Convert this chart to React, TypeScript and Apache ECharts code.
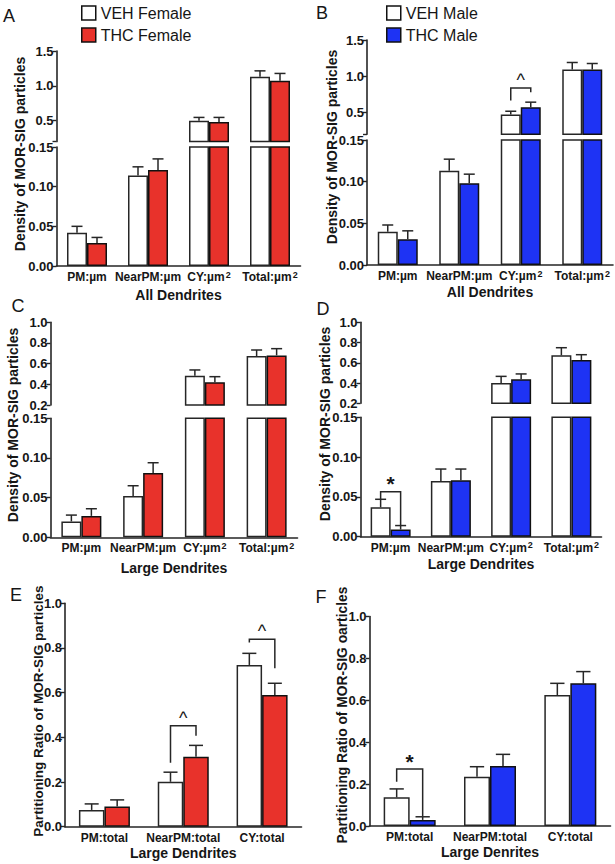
import React, { useEffect, useRef } from "react";
import * as echarts from "echarts";

// ---------------- data ----------------
const densityCategories = ["PM:µm", "NearPM:µm", "CY:µm²", "Total:µm²"];
const ratioCategories = ["PM:total", "NearPM:total", "CY:total"];

const upperTicksAB = [0.2, 0.5, 1.0, 1.5];
const upperLabelsAB = [0.5, 1.0, 1.5];
const upperTicksCD = [0.2, 0.4, 0.6, 0.8, 1.0];
const lowerTicks = [0, 0.05, 0.1, 0.15];
const ratioTicks = [0, 0.2, 0.4, 0.6, 0.8, 1.0];

// A – All dendrites, female
const aVeh = [0.042, 0.114, 0.498, 1.129];
const aVehErr = [0.008, 0.011, 0.049, 0.086];
const aThc = [0.029, 0.121, 0.483, 1.072];
const aThcErr = [0.007, 0.014, 0.064, 0.106];
// B – All dendrites, male
const bVeh = [0.04, 0.113, 0.472, 1.093];
const bVehErr = [0.008, 0.014, 0.046, 0.097];
const bThc = [0.031, 0.098, 0.574, 1.093];
const bThcErr = [0.01, 0.011, 0.069, 0.083];
// C – Large dendrites, female
const cVeh = [0.02, 0.052, 0.484, 0.674];
const cVehErr = [0.008, 0.013, 0.055, 0.058];
const cThc = [0.027, 0.081, 0.42, 0.68];
const cThcErr = [0.009, 0.013, 0.054, 0.065];
// D – Large dendrites, male
const dVeh = [0.037, 0.07, 0.4, 0.674];
const dVehErr = [0.01, 0.015, 0.066, 0.075];
const dThc = [0.009, 0.071, 0.437, 0.628];
const dThcErr = [0.005, 0.014, 0.053, 0.052];
// E – Partitioning ratio, female
const eVeh = [0.075, 0.201, 0.724];
const eVehErr = [0.027, 0.043, 0.052];
const eThc = [0.09, 0.313, 0.59];
const eThcErr = [0.03, 0.051, 0.052];
// F – Partitioning ratio, male
const fVeh = [0.137, 0.235, 0.625];
const fVehErr = [0.04, 0.048, 0.056];
const fThc = [0.029, 0.286, 0.681];
const fThcErr = [0.015, 0.056, 0.056];

// significance brackets: [category index, bracket level, left drop, right drop]
const bBracket = [2, 0.84, 0.667, 0.78];
const dBracket = [0, 0.0566, 0.0467, 0.014];
const eBracketNear = [1, 0.452, 0.286, 0.407];
const eBracketCY = [2, 0.839, 0.824, 0.709];
const fBracket = [0, 0.272, 0.211, 0.048];

// ---------------- styling ----------------
const FONT = "'Liberation Sans', Arial, Helvetica, sans-serif";
const INK = "#262626";
const TXT = "#161616";
const RED = "#E8322B";
const BLUE = "#1E33F4";

type Segment = {
  top: number;
  height: number;
  min: number;
  max: number;
  ticks: number[];
  labels: number[];
  digits: number;
};
type Bracket = { seg: number; b: number[]; mark: string };
type Panel = {
  cats: string[];
  veh: number[];
  vehErr: number[];
  thc: number[];
  thcErr: number[];
  color: string;
  names: [string, string];
  xName: string;
  xNameGap: number;
  left: number;
  width: number;
  barW: number;
  segments: Segment[];
  brackets: Bracket[];
};

function buildOption() {
  const grid: any[] = [];
  const xAxis: any[] = [];
  const yAxis: any[] = [];
  const series: any[] = [];
  const graphic: any[] = [];

  const addPanel = (p: Panel) => {
    const segIdx: number[] = [];
    p.segments.forEach((s, si) => {
      const gi = grid.length;
      segIdx.push(gi);
      const isLast = si === p.segments.length - 1;
      grid.push({ left: p.left, top: s.top, width: p.width, height: s.height });
      xAxis.push({
        type: "category",
        gridIndex: gi,
        data: p.cats,
        axisLine: { show: isLast, lineStyle: { color: INK, width: 1.6 } },
        axisTick: { show: false },
        axisLabel: {
          show: isLast,
          interval: 0,
          margin: 4,
          color: TXT,
          fontFamily: FONT,
          fontWeight: "bold",
          fontSize: 12,
          lineHeight: 14,
          formatter: (v: string) => (v.indexOf("²") >= 0 ? v.replace("²", "{s|2}") : v),
          rich: {
            s: {
              fontSize: 9,
              fontWeight: "bold",
              fontFamily: FONT,
              color: TXT,
              verticalAlign: "top",
              lineHeight: 9,
              padding: [0, 0, 0, 1],
            },
          },
        },
        name: isLast ? p.xName : "",
        nameLocation: "middle",
        nameGap: p.xNameGap,
        nameTextStyle: { color: TXT, fontFamily: FONT, fontWeight: "bold", fontSize: 14 },
      });
      yAxis.push({
        type: "value",
        gridIndex: gi,
        min: s.min,
        max: s.max,
        splitLine: { show: false },
        axisLine: { show: true, lineStyle: { color: INK, width: 1.6 } },
        axisTick: { show: true, length: 4, lineStyle: { color: INK, width: 1.4 }, customValues: s.ticks },
        axisLabel: {
          customValues: s.labels,
          formatter: (v: number) => Number(v).toFixed(s.digits),
          margin: 3,
          color: TXT,
          fontFamily: FONT,
          fontWeight: "bold",
          fontSize: 13,
          lineHeight: 11,
        },
      });
      const keep = (v: number) => (v > s.min ? v : null);
      series.push({
        type: "bar",
        name: p.names[0],
        xAxisIndex: gi,
        yAxisIndex: gi,
        data: p.veh.map(keep),
        barWidth: p.barW,
        barGap: "0%",
        clip: true,
        itemStyle: { color: "#ffffff", borderColor: INK, borderWidth: 1.5 },
      });
      series.push({
        type: "bar",
        name: p.names[1],
        xAxisIndex: gi,
        yAxisIndex: gi,
        data: p.thc.map(keep),
        barWidth: p.barW,
        barGap: "0%",
        clip: true,
        itemStyle: { color: p.color, borderColor: "#111", borderWidth: 1.5 },
      });
      const errData: number[][] = [];
      p.veh.forEach((v, i) => {
        if (v > s.min && v <= s.max) errData.push([i, v, p.vehErr[i], -1]);
      });
      p.thc.forEach((v, i) => {
        if (v > s.min && v <= s.max) errData.push([i, v, p.thcErr[i], 1]);
      });
      const bw = p.barW;
      series.push({
        type: "custom",
        xAxisIndex: gi,
        yAxisIndex: gi,
        encode: { x: 0, y: 1 },
        data: errData,
        z: 3,
        renderItem: (params: any, api: any) => {
          const c = api.value(0);
          const v = api.value(1);
          const e = api.value(2);
          const side = api.value(3);
          const p0 = api.coord([c, v]);
          const p1 = api.coord([c, v + e]);
          const x = p0[0] + (side * bw) / 2;
          const cap = bw * 0.55;
          return {
            type: "group",
            children: [
              { type: "line", shape: { x1: x, y1: p0[1], x2: x, y2: p1[1] }, style: { stroke: INK, lineWidth: 1.5 } },
              {
                type: "line",
                shape: { x1: x - cap / 2, y1: p1[1], x2: x + cap / 2, y2: p1[1] },
                style: { stroke: INK, lineWidth: 1.5 },
              },
            ],
          };
        },
      });
    });
    p.brackets.forEach((br) => {
      const gi = segIdx[br.seg];
      const bw = p.barW;
      const star = br.mark === "*";
      series.push({
        type: "custom",
        xAxisIndex: gi,
        yAxisIndex: gi,
        encode: { x: 0, y: 1 },
        data: [br.b],
        z: 4,
        renderItem: (params: any, api: any) => {
          const c = api.value(0);
          const pT = api.coord([c, api.value(1)]);
          const pL = api.coord([c, api.value(2)]);
          const pR = api.coord([c, api.value(3)]);
          const xl = pT[0] - bw / 2;
          const xr = pT[0] + bw / 2;
          return {
            type: "group",
            children: [
              {
                type: "polyline",
                shape: { points: [[xl, pL[1]], [xl, pT[1]], [xr, pT[1]], [xr, pR[1]]] },
                style: { stroke: INK, lineWidth: 1.5, fill: "none" },
              },
              {
                type: "text",
                x: pT[0],
                y: pT[1] - 8,
                style: {
                  text: br.mark,
                  fill: TXT,
                  fontFamily: FONT,
                  fontSize: star ? 21 : 18,
                  fontWeight: star ? "bold" : "normal",
                  textAlign: "center",
                  align: "center",
                  textVerticalAlign: "middle",
                  verticalAlign: "middle",
                },
              },
            ],
          };
        },
      });
    });
  };

  const densSeg = (top: number, height: number, min: number, max: number, ticks: number[], labels: number[], digits: number): Segment => ({
    top,
    height,
    min,
    max,
    ticks,
    labels,
    digits,
  });

  // A
  addPanel({
    cats: densityCategories,
    veh: aVeh,
    vehErr: aVehErr,
    thc: aThc,
    thcErr: aThcErr,
    color: RED,
    names: ["VEH Female", "THC Female"],
    xName: "All Dendrites",
    xNameGap: 22,
    left: 56.5,
    width: 244,
    barW: 20,
    segments: [
      densSeg(51, 90.6, 0.2, 1.5, upperTicksAB, upperLabelsAB, 1),
      densSeg(147, 119, 0, 0.15, lowerTicks, lowerTicks, 2),
    ],
    brackets: [],
  });
  // B
  addPanel({
    cats: densityCategories,
    veh: bVeh,
    vehErr: bVehErr,
    thc: bThc,
    thcErr: bThcErr,
    color: BLUE,
    names: ["VEH Male", "THC Male"],
    xName: "All Dendrites",
    xNameGap: 20,
    left: 367,
    width: 246,
    barW: 20,
    segments: [
      densSeg(40, 94.3, 0.2, 1.5, upperTicksAB, upperLabelsAB, 1),
      densSeg(140, 125, 0, 0.15, lowerTicks, lowerTicks, 2),
    ],
    brackets: [{ seg: 0, b: bBracket, mark: "^" }],
  });
  // C
  addPanel({
    cats: densityCategories,
    veh: cVeh,
    vehErr: cVehErr,
    thc: cThc,
    thcErr: cThcErr,
    color: RED,
    names: ["VEH Female C", "THC Female C"],
    xName: "Large Dendrites",
    xNameGap: 24,
    left: 50.5,
    width: 247,
    barW: 20,
    segments: [
      densSeg(322.3, 82.7, 0.2, 1.0, upperTicksCD, upperTicksCD, 1),
      densSeg(418.3, 119, 0, 0.15, lowerTicks, lowerTicks, 2),
    ],
    brackets: [],
  });
  // D
  addPanel({
    cats: densityCategories,
    veh: dVeh,
    vehErr: dVehErr,
    thc: dThc,
    thcErr: dThcErr,
    color: BLUE,
    names: ["VEH Male D", "THC Male D"],
    xName: "Large Dendrites",
    xNameGap: 20,
    left: 360.5,
    width: 241,
    barW: 20,
    segments: [
      densSeg(322.3, 81, 0.2, 1.0, upperTicksCD, upperTicksCD, 1),
      densSeg(417.3, 119.4, 0, 0.15, lowerTicks, lowerTicks, 2),
    ],
    brackets: [{ seg: 1, b: dBracket, mark: "*" }],
  });
  // E
  addPanel({
    cats: ratioCategories,
    veh: eVeh,
    vehErr: eVehErr,
    thc: eThc,
    thcErr: eThcErr,
    color: RED,
    names: ["VEH Female E", "THC Female E"],
    xName: "Large Dendrites",
    xNameGap: 19,
    left: 65,
    width: 236.5,
    barW: 25.5,
    segments: [densSeg(603.3, 223.4, 0, 1.0, ratioTicks, ratioTicks, 1)],
    brackets: [
      { seg: 0, b: eBracketNear, mark: "^" },
      { seg: 0, b: eBracketCY, mark: "^" },
    ],
  });
  // F
  addPanel({
    cats: ratioCategories,
    veh: fVeh,
    vehErr: fVehErr,
    thc: fThc,
    thcErr: fThcErr,
    color: BLUE,
    names: ["VEH Male F", "THC Male F"],
    xName: "Large Denrites",
    xNameGap: 19,
    left: 369.5,
    width: 241,
    barW: 26,
    segments: [densSeg(616.5, 209.5, 0, 1.0, ratioTicks, ratioTicks, 1)],
    brackets: [{ seg: 0, b: fBracket, mark: "*" }],
  });

  const letter = (t: string, x: number, y: number) => ({
    type: "text",
    x,
    y,
    style: {
      text: t,
      fill: TXT,
      fontFamily: FONT,
      fontSize: 18,
      textAlign: "center",
      align: "center",
      textVerticalAlign: "middle",
      verticalAlign: "middle",
    },
  });
  const yTitle = (t: string, x: number, y: number, size: number) => ({
    type: "text",
    x,
    y,
    rotation: Math.PI / 2,
    style: {
      text: t,
      fill: TXT,
      fontFamily: FONT,
      fontWeight: "bold",
      fontSize: size,
      textAlign: "center",
      align: "center",
      textVerticalAlign: "middle",
      verticalAlign: "middle",
    },
  });
  graphic.push(letter("A", 9, 16));
  graphic.push(letter("B", 322, 13));
  graphic.push(letter("C", 18, 306));
  graphic.push(letter("D", 323, 309));
  graphic.push(letter("E", 16, 595));
  graphic.push(letter("F", 321, 597));
  graphic.push(yTitle("Density of MOR-SIG particles", 20, 154, 14));
  graphic.push(yTitle("Density of MOR-SIG particles", 332, 147, 14));
  graphic.push(yTitle("Density of MOR-SIG particles", 13, 425, 14));
  graphic.push(yTitle("Density of MOR-SIG particles", 325, 424, 14));
  graphic.push(yTitle("Partitioning Ratio of MOR-SIG particles", 38, 711, 13.5));
  graphic.push(yTitle("Partitioning Ratio of MOR-SIG oarticles", 342, 715, 13.8));

  const legendBase = {
    orient: "vertical",
    icon: "rect",
    itemWidth: 14,
    itemHeight: 14,
    itemGap: 6,
    selectedMode: false,
    padding: 0,
    itemStyle: { borderColor: "#111", borderWidth: 1.5 },
    textStyle: { color: TXT, fontFamily: FONT, fontSize: 16 },
  };

  return {
    animation: false,
    backgroundColor: "#ffffff",
    grid,
    xAxis,
    yAxis,
    series,
    graphic,
    legend: [
      { ...legendBase, data: ["VEH Female", "THC Female"], left: 81, top: 5 },
      { ...legendBase, data: ["VEH Male", "THC Male"], left: 386, top: 5 },
    ],
  };
}

export default function App() {
  const ref = useRef<HTMLDivElement>(null);
  useEffect(() => {
    if (!ref.current) return;
    const chart = echarts.init(ref.current, null, { renderer: "svg" });
    chart.setOption(buildOption() as any);
    return () => chart.dispose();
  }, []);
  return (
    <div
      ref={ref}
      style={{ position: "absolute", left: 0, top: 0, width: 615, height: 864, background: "#ffffff" }}
    />
  );
}
